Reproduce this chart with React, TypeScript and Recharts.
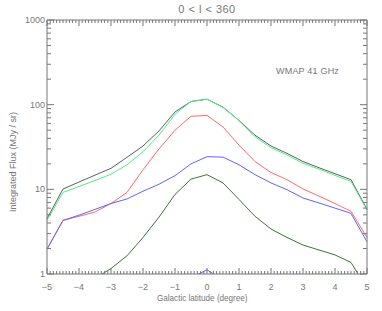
import { LineChart, Line, XAxis, YAxis } from "recharts";

const latitudes = [-5, -4.5, -4, -3.5, -3, -2.5, -2, -1.5, -1, -0.5, 0, 0.5, 1, 1.5, 2, 2.5, 3, 3.5, 4, 4.5, 5];

const totalFlux = [4.5, 10.1, 12.2, 14.7, 17.7, 23.9, 32.5, 49, 82, 109, 116, 93.5, 65, 43.6, 32.5, 26.6, 21.3, 18, 15.3, 13, 5.8];
const greenFlux = [4.3, 9.2, 10.8, 12.7, 15.1, 19.5, 27.8, 43.6, 77, 109, 116, 93, 65, 41.7, 31, 25.5, 20.3, 17.3, 14.6, 12.4, 5.7];
const redFlux = [1.97, 4.3, 4.8, 5.4, 6.8, 9.2, 17, 30, 49.9, 72.8, 74.7, 54.6, 33.3, 21.3, 15.8, 13, 10.1, 8.3, 6.8, 5.5, 2.7];
const blueFlux = [1.97, 4.3, 4.95, 5.8, 6.8, 7.7, 9.5, 11.5, 14.5, 20, 24.3, 24, 19.5, 14.9, 11.9, 9.9, 7.9, 6.9, 6.0, 5.2, 2.4];
const darkGreenFlux = [0.3, 0.55, 0.7, 0.89, 1.16, 1.64, 2.7, 4.7, 8.7, 13.2, 14.9, 11.9, 7.6, 4.8, 3.4, 2.7, 2.2, 1.92, 1.68, 1.37, 0.67];
const purpleFlux = [0.3, 0.3, 0.3, 0.3, 0.3, 0.3, 0.4, 0.5, 0.6, 0.9, 1.12, 0.85, 0.6, 0.5, 0.4, 0.3, 0.3, 0.3, 0.3, 0.3, 0.3];

const xLabels = [-5, -4, -3, -2, -1, 0, 1, 2, 3, 4, 5];
const yLabels = [1, 10, 100, 1000];

const data = latitudes.map((x, i) => ({
  x,
  total: totalFlux[i],
  green: greenFlux[i],
  red: redFlux[i],
  blue: blueFlux[i],
  darkGreen: darkGreenFlux[i],
  purple: purpleFlux[i],
}));

const xTicks: number[] = [];
for (let i = -50; i <= 50; i++) xTicks.push(i / 10);
const yTicks: number[] = [];
for (const d of [1, 10, 100]) for (let m = 1; m < 10; m++) yTicks.push(d * m);
yTicks.push(1000);

const AX = "#777";
const FONT = "'Liberation Sans', Arial, sans-serif";

const isMajorX = (v: number) => xLabels.some((l) => Math.abs(l - v) < 1e-6);
const isMajorY = (v: number) => yLabels.includes(v);

function XTick(props: any, top: boolean) {
  const { x, y, payload } = props;
  const major = isMajorX(payload.value);
  const len = major ? 6 : 3;
  const dir = top ? 1 : -1;
  const v = Math.round(payload.value);
  return (
    <g>
      <line x1={x} y1={y} x2={x} y2={y + dir * len} stroke={AX} strokeWidth={1} />
      {!top && major && (
        <text x={x} y={y + 16} textAnchor="middle" fontSize={9} fill={AX} fontFamily={FONT}>
          {v < 0 ? "\u2212" + Math.abs(v) : v}
        </text>
      )}
    </g>
  );
}

function YTick(props: any, right: boolean) {
  const { x, y, payload } = props;
  const major = isMajorY(payload.value);
  const len = major ? 7 : 4;
  const dir = right ? -1 : 1;
  return (
    <g>
      <line x1={x} y1={y} x2={x + dir * len} y2={y} stroke={AX} strokeWidth={1} />
      {!right && major && (
        <text x={x - 2} y={y + 3} textAnchor="end" fontSize={9} fill={AX} fontFamily={FONT}>
          {payload.value}
        </text>
      )}
    </g>
  );
}

export default function App() {
  return (
    <div style={{ position: "absolute", left: 0, top: 0, width: 382, height: 311, background: "#fff" }}>
      <LineChart width={382} height={311} data={data} margin={{ top: 19, right: 14, bottom: 36, left: 46 }}>
        <XAxis
          xAxisId="b"
          dataKey="x"
          type="number"
          domain={[-5, 5]}
          ticks={xTicks}
          interval={0}
          height={1}
          tickSize={0}
          tickMargin={0}
          stroke={AX}
          tick={(p: any) => XTick(p, false)}
        />
        <XAxis
          xAxisId="t"
          orientation="top"
          dataKey="x"
          type="number"
          domain={[-5, 5]}
          ticks={xTicks}
          interval={0}
          height={1}
          tickSize={0}
          tickMargin={0}
          stroke={AX}
          tick={(p: any) => XTick(p, true)}
        />
        <YAxis
          yAxisId="l"
          scale="log"
          type="number"
          domain={[1, 1000]}
          allowDataOverflow
          ticks={yTicks}
          interval={0}
          width={1}
          tickSize={0}
          tickMargin={0}
          stroke={AX}
          tick={(p: any) => YTick(p, false)}
        />
        <YAxis
          yAxisId="r"
          orientation="right"
          scale="log"
          type="number"
          domain={[1, 1000]}
          allowDataOverflow
          ticks={yTicks}
          interval={0}
          width={1}
          tickSize={0}
          tickMargin={0}
          stroke={AX}
          tick={(p: any) => YTick(p, true)}
        />
        <Line xAxisId="b" yAxisId="l" dataKey="total" stroke="#5e5e5e" strokeWidth={1} dot={false} isAnimationActive={false} />
        <Line xAxisId="b" yAxisId="l" dataKey="green" stroke="#50f080" strokeWidth={1} dot={false} isAnimationActive={false} />
        <Line xAxisId="b" yAxisId="l" dataKey="red" stroke="#ff6a6a" strokeWidth={1} dot={false} isAnimationActive={false} />
        <Line xAxisId="b" yAxisId="l" dataKey="blue" stroke="#6262ff" strokeWidth={1} dot={false} isAnimationActive={false} />
        <Line xAxisId="b" yAxisId="l" dataKey="darkGreen" stroke="#347834" strokeWidth={1} dot={false} isAnimationActive={false} />
        <Line xAxisId="t" yAxisId="r" dataKey="purple" stroke="#9a40ff" strokeWidth={1} dot={false} isAnimationActive={false} />
      </LineChart>
      <div style={{ position: "absolute", left: 0, width: 382, top: 3, textAlign: "center", paddingLeft: 32, boxSizing: "border-box", fontFamily: FONT, fontSize: 11, color: AX, letterSpacing: 0.5 }}>
        0 &lt; l &lt; 360
      </div>
      <div style={{ position: "absolute", left: 276, top: 66, fontFamily: FONT, fontSize: 9, color: AX, letterSpacing: 0.2 }}>
        WMAP 41 GHz
      </div>
      <div style={{ position: "absolute", left: 157, top: 293, fontFamily: FONT, fontSize: 9, color: AX, transform: "scaleX(0.9)", transformOrigin: "left" }}>
        Galactic latitude (degree)
      </div>
      <div
        style={{
          position: "absolute",
          left: 13,
          top: 162,
          transform: "translate(-50%, -50%) rotate(-90deg)",
          whiteSpace: "nowrap",
          fontFamily: FONT,
          fontSize: 9,
          color: AX,
        }}
      >
        Integrated Flux (MJy / sr)
      </div>
    </div>
  );
}
